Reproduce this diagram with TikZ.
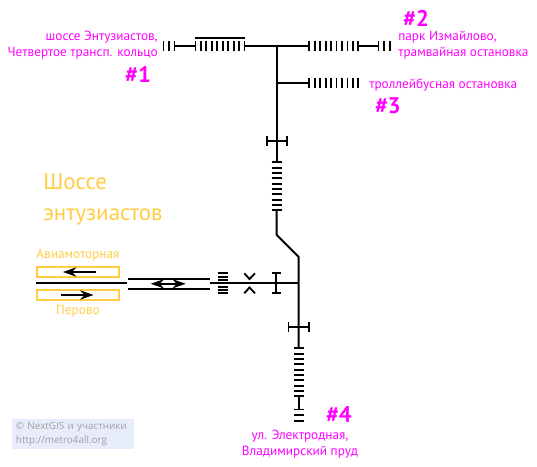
\documentclass[tikz,border=0pt]{standalone}
\usepackage{fontspec}
\setmainfont{PT Sans}
\newfontfamily\creditfont{Open Sans}
\usetikzlibrary{arrows.meta}
\definecolor{mag}{HTML}{FF00FF}
\definecolor{gold}{HTML}{FFCC44}
\definecolor{credit}{HTML}{A0A0A0}
\definecolor{creditbg}{HTML}{E6ECFA}
\tikzset{
  x=0.75pt,y=-0.75pt,
  track/.style={draw=black,line width=1.5pt},
  tick/.style={draw=black,line width=1.4pt},
  lab/.style={text=mag,font=\fontsize{9.95pt}{12.2pt}\selectfont,inner sep=0pt,align=center},
  num/.style={text=mag,font=\fontsize{17pt}{18pt}\selectfont\bfseries,inner sep=0pt},
  gtxt/.style={text=gold,font=\fontsize{9.95pt}{11pt}\selectfont,inner sep=0pt},
  gbox/.style={draw=gold,line width=1.5pt,fill=white},
  head/.style={-{Stealth[length=10pt,width=7pt]},draw=black,line width=1.3pt},
}
\begin{document}
\begin{tikzpicture}
\useasboundingbox (0,0) rectangle (537,467);
% junction coordinates
\coordinate (tl) at (175,46);
\coordinate (pa) at (195,46);
\coordinate (pb) at (245,46);
\coordinate (top) at (276.7,46);
\coordinate (ra) at (309,46);
\coordinate (rb) at (358,46);
\coordinate (re) at (378,46);
\coordinate (mid) at (276.7,82.7);
\coordinate (mra) at (309,82.7);
\coordinate (ca) at (276.7,162);
\coordinate (cb) at (276.7,210.3);
\coordinate (bend1) at (276.7,235);
\coordinate (bend2) at (298.7,257);
\coordinate (jn) at (298.7,283.3);
\coordinate (da) at (298.7,348.3);
\coordinate (db) at (298.7,396.3);
\coordinate (de) at (298.7,409.3);
\coordinate (he) at (209.7,283.3);
% upper line
\draw[track] (tl) -- (pa);
\draw[track] (pb) -- (ra);
\draw[track] (rb) -- (re);
\draw[track] (top) -- (ca);
\draw[track] (mid) -- (mra);
\draw[track] (cb) -- (bend1) -- (bend2) -- (jn) -- (da);
\draw[track] (db) -- (de);
\draw[track] (jn) -- (he);
% ticks left
\foreach \x in {163.5,168.8,174.5}{\draw[tick] (\x,41.5) -- (\x,51.5);}
\foreach \i in {0,...,9}{\draw[tick] ({195.5+\i*5.45},41.5) -- ({195.5+\i*5.45},51.5);}
\draw[tick] (195,37.8) -- (245,37.8);
% ticks right
\foreach \i in {0,...,9}{\draw[tick] ({309.3+\i*5.45},41.5) -- ({309.3+\i*5.45},51.5);}
\foreach \x in {378.5,384,390}{\draw[tick] (\x,41.5) -- (\x,51.5);}
\foreach \i in {0,...,9}{\draw[tick] ({309.3+\i*5.45},77.7) -- ({309.3+\i*5.45},87.7);}
% cross 1 and vertical ticks
\draw[tick] (266.7,141) -- (286.7,141);
\draw[tick] (266.7,136) -- (266.7,146);
\draw[tick] (286.7,136) -- (286.7,146);
\foreach \i in {0,...,9}{\draw[tick] (271.7,{162.3+\i*5.33}) -- (281.7,{162.3+\i*5.33});}
% cross 2 and lower ticks
\draw[tick] (288.5,326.7) -- (309,326.7);
\draw[tick] (288.5,321.7) -- (288.5,331.7);
\draw[tick] (309,321.7) -- (309,331.7);
\foreach \i in {0,...,9}{\draw[tick] (294,{348.3+\i*5.33}) -- (304,{348.3+\i*5.33});}
\foreach \y in {409.5,415.3,421}{\draw[tick] (294,\y) -- (304,\y);}
% horizontal passage
\draw[tick] (276,273.3) -- (276,293.3);
\draw[tick] (271.5,273.3) -- (280.5,273.3);
\draw[tick] (271.5,293.3) -- (280.5,293.3);
\draw[tick] (244.3,273.3) -- (249.5,279) -- (255,273.3);
\draw[tick] (244.3,293.3) -- (249.5,287.5) -- (255,293.3);
\foreach \y in {273.3,276.6,280,283.3,287,290.2,293.4}{\draw[tick] (217.7,\y) -- (227.7,\y);}
% double line
\coordinate (dl1) at (127.7,278.7); \coordinate (dl2) at (209.7,278.7);
\coordinate (dl3) at (127.7,289); \coordinate (dl4) at (209.7,289);
\draw[track] (dl1) -- (dl2);
\draw[track] (dl3) -- (dl4);
\coordinate (pl) at (36,283.3); \coordinate (pr) at (126.7,283.3);
\draw[track] (pl) -- (pr);
% boxes
\draw[gbox] (37,266.7) rectangle (119,277);
\draw[gbox] (37,290) rectangle (119,300.5);
\coordinate (a1) at (96,272); \coordinate (a2) at (63,272);
\coordinate (b1) at (60.7,295); \coordinate (b2) at (93.5,295);
\draw[head] (a1) -- (a2);
\draw[head] (b1) -- (b2);
\coordinate (d1) at (168,283.8); \coordinate (d2) at (150.7,283.8); \coordinate (d3) at (185.7,283.8);
\draw[head] (d1) -- (d2);
\draw[head] (d1) -- (d3);
% labels
\node[lab,align=right,anchor=north east] (l1) at (158,31) {шоссе Энтузиастов,\\Четвертое трансп. кольцо};
\node[lab,align=left,anchor=north west] (l2) at (398,31) {парк Измайлово,\\трамвайная остановка};
\node[lab,anchor=west] (l3) at (369,85.5) {троллейбусная остановка};
\node[lab] (l4) at (300,444) {ул. Электродная,\\Владимирский пруд};
\node[num] (n1) at (138,74) {\#1};
\node[num] (n2) at (416,18) {\#2};
\node[num] (n3) at (388,106) {\#3};
\node[num] (n4) at (339,415) {\#4};
\node[gtxt,anchor=north west,font=\fontsize{17.2pt}{23.2pt}\selectfont,align=left] (title) at (43,173) {Шоссе\\энтузиастов};
\node[gtxt] (s1) at (78,255) {Авиамоторная};
\node[gtxt] (s2) at (78,311) {Перово};
\node[fill=creditbg,text=credit,font=\creditfont\fontsize{7.4pt}{10.2pt}\selectfont,align=left,anchor=north west,text width=85.5pt,inner xsep=3pt,inner ysep=2.5pt,outer sep=0pt] (credit) at (12,419) {© NextGIS и участники\\http://metro4all.org};
\end{tikzpicture}
\end{document}
